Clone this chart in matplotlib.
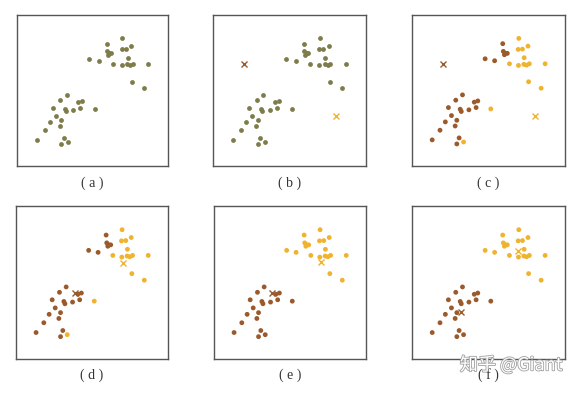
import matplotlib.pyplot as plt
import matplotlib.patheffects as pe

# point positions (0-100 box units)
xs = [69.8, 59.3, 75.8, 69.4, 72.2, 59.7, 61.2, 62.3, 60.4, 73.3, 47.8, 54.0, 63.7, 69.6,
      73.1, 74.9, 76.7, 87.0, 76.2, 84.4,
      33.0, 28.6, 40.7, 43.0, 23.8, 31.5, 32.2, 37.2, 41.9, 51.5, 25.8, 29.3, 21.8, 28.2,
      18.3, 30.8, 13.2, 29.3, 33.7]
ys = [84.5, 81.0, 79.4, 77.2, 77.4, 75.9, 74.6, 74.6, 73.7, 71.7, 71.0, 69.7, 67.7, 66.6,
      67.3, 66.8, 67.7, 67.7, 55.8, 51.5,
      47.1, 43.6, 42.3, 43.1, 38.7, 37.6, 36.1, 37.2, 38.7, 37.8, 33.4, 30.3, 29.2, 26.5,
      23.7, 18.6, 17.3, 14.6, 15.9]

# cluster labels: 0 = brown, 1 = yellow
lab_first = [1, 0, 1, 1, 1, 0, 0, 0, 0, 1, 0, 0, 1, 1, 1, 1, 1, 1, 1, 1,
             0, 0, 0, 0, 0, 0, 0, 0, 0, 1, 0, 0, 0, 0, 0, 0, 0, 0, 1]
lab_final = [1] * 20 + [0] * 19

# centroids per panel (brown, yellow)
cent_b = [(20.3, 67.3), (80.6, 33.2)]
cent_d = [(38.5, 43.4), (70.5, 62.8)]
cent_e = [(37.9, 43.4), (70.5, 63.5)]
cent_f = [(31.7, 30.8), (69.4, 70.6)]

panel_names = ["( a )", "( b )", "( c )", "( d )", "( e )", "( f )"]

olive = "#7e7c4a"
brown = "#9a5a2c"
yellow = "#f0b330"
cols = [brown, yellow]

W, H = 578, 393
fig = plt.figure(figsize=(W / 100, H / 100), dpi=100)

# boxes in pixels: left, top, right, bottom
boxes = [(17, 15, 168, 166), (213, 15, 366, 166), (412, 15, 565, 166),
         (16, 206, 168, 359), (214, 206, 366, 359), (412, 206, 565, 359)]
label_y = [183, 183, 183, 375, 375, 375]

panels = [
    (None, None),
    (None, cent_b),
    (lab_first, cent_b),
    (lab_first, cent_d),
    (lab_final, cent_e),
    (lab_final, cent_f),
]

for i, (box, (labs, cents)) in enumerate(zip(boxes, panels)):
    l, t, r, b = box
    ax = fig.add_axes([l / W, 1 - b / H, (r - l) / W, (b - t) / H])
    if labs is None:
        ax.scatter(xs, ys, s=12, color=olive, linewidths=0)
    else:
        ax.scatter(xs, ys, s=12, color=[cols[k] for k in labs], linewidths=0)
    if cents is not None:
        for k, (cx, cy) in enumerate(cents):
            ax.plot(cx, cy, marker="x", ms=5, mew=1.0, color=cols[k], ls="none")
    ax.set_xlim(0, 100)
    ax.set_ylim(0, 100)
    ax.set_xticks([])
    ax.set_yticks([])
    for sp in ax.spines.values():
        sp.set_color("#555555")
        sp.set_linewidth(1.0)
    fig.text((l + r) / 2 / W, 1 - label_y[i] / H, panel_names[i], ha="center", va="center",
             fontsize=10, color="#333333", family=["Liberation Serif"])

fig.text(511 / W, 1 - 365 / H, "知乎 @Giant", ha="center", va="center", fontsize=13,
         color="white", family=["Noto Sans CJK SC", "DejaVu Sans"],
         path_effects=[pe.withStroke(linewidth=1.2, foreground="#a0a0a0")])

fig.savefig("out.png", dpi=100, facecolor="white")
